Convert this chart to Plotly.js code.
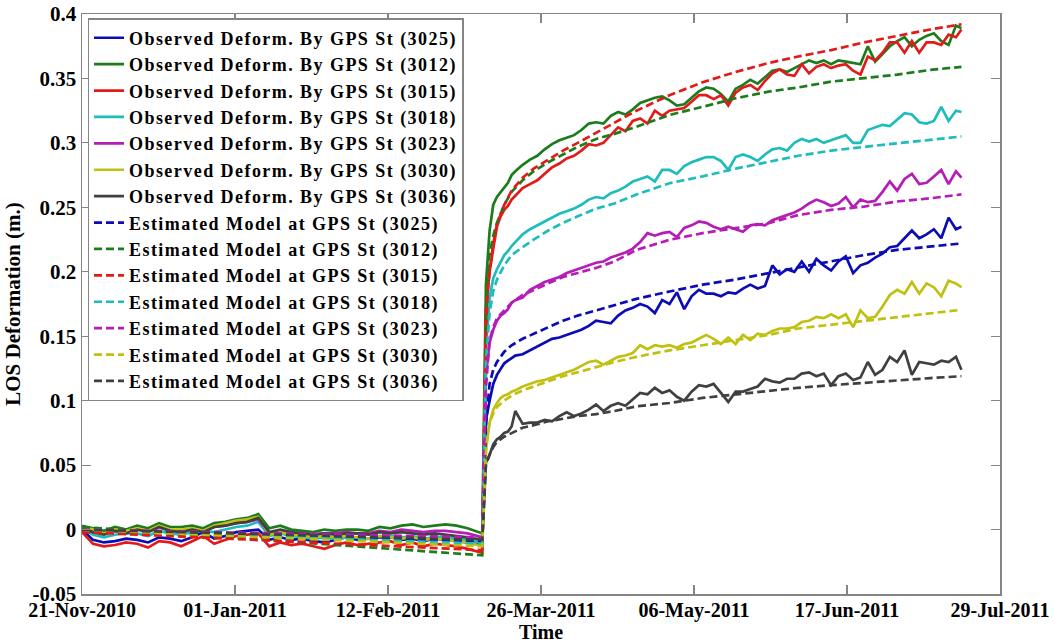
<!DOCTYPE html>
<html>
<head>
<meta charset="utf-8">
<script src="https://cdn.plot.ly/plotly-3.0.1.min.js"></script>
<style>html,body{margin:0;padding:0;background:#fff;}#chart{width:1054px;height:643px;}
.legendtext{letter-spacing:1.45px;}</style>
</head>
<body>
<div id="chart"></div>
<script>
// ---- time grids (days since 21-Nov-2010) ----
const preDays = [0,3,6,9,12,15,18,21,24,27,30,33,36,39,42,45,48,51,54,57,60,63,66,69,72,75,78,81,84,87,90,93,96,99,102,105,109];
const postDays = [110,111,112,113,114,115,116,117,118,
  120,122,124,126,128,130,132,134,136,138,
  140,142,144,146,148,150,152,154,156,158,
  160,162,164,166,168,170,172,174,176,178,
  180,182,184,186,188,190,192,194,196,198,
  200,202,204,206,208,210,212,214,216,218,
  220,222,224,226,228,230,232,234,236,238,239.5];
const modelDays = [0,109,110,110.5,111,112,113,115,117,120,123,127,131,135,140,145,151,160,169,178,187,195,204,213,222,231,239.5];

// ---- axis ticks ----
const xTickDays = [0,41.6667,83.3333,125,166.6667,208.3333,250];
const xTickText = ['21-Nov-2010','01-Jan-2011','12-Feb-2011','26-Mar-2011','06-May-2011','17-Jun-2011','29-Jul-2011'];
const yTickVals = [-0.05,0,0.05,0.1,0.15,0.2,0.25,0.3,0.35,0.4];
const yTickText = ['-0.05','0','0.05','0.1','0.15','0.2','0.25','0.3','0.35','0.4'];

// ---- observed deformation (m) ----
const obsPre3025 = [0.000,-0.008,-0.010,-0.009,-0.007,-0.008,-0.010,-0.006,-0.007,-0.009,-0.006,-0.002,-0.007,-0.005,-0.002,-0.001,0.000,-0.008,-0.006,-0.008,-0.007,-0.009,-0.010,-0.008,-0.006,-0.008,-0.007,-0.006,-0.006,-0.008,-0.007,-0.009,-0.007,-0.008,-0.009,-0.010,-0.012];
const obsPost3025 = [0.085,0.1,0.113,0.12,0.125,0.129,0.131,0.133,0.135,
  0.136,0.139,0.142,0.145,0.148,0.149,0.151,0.153,0.155,0.158,
  0.162,0.161,0.16,0.166,0.17,0.172,0.175,0.173,0.168,0.178,
  0.175,0.184,0.171,0.181,0.186,0.183,0.183,0.181,0.184,0.183,
  0.187,0.19,0.187,0.189,0.205,0.198,0.202,0.2,0.208,0.2,
  0.21,0.205,0.201,0.208,0.212,0.199,0.205,0.207,0.211,0.214,
  0.219,0.22,0.226,0.232,0.226,0.229,0.233,0.226,0.242,0.233,0.235];

const obsPre3012 = [0.003,0.001,-0.001,0.002,0.000,0.003,0.001,0.005,0.002,0.002,0.003,0.001,0.005,0.006,0.008,0.009,0.012,0.001,0.003,0.000,-0.001,-0.002,0.000,-0.001,0.000,0.000,-0.001,0.002,0.001,0.003,0.004,0.002,0.003,0.004,0.003,0.001,-0.003];
const obsPost3012 = [0.19,0.232,0.252,0.258,0.262,0.266,0.269,0.275,0.278,
  0.283,0.287,0.29,0.295,0.299,0.302,0.304,0.306,0.31,0.315,
  0.316,0.315,0.321,0.324,0.322,0.326,0.331,0.333,0.335,0.336,
  0.333,0.329,0.33,0.335,0.34,0.343,0.342,0.338,0.332,0.342,
  0.345,0.349,0.346,0.351,0.356,0.357,0.355,0.358,0.361,0.364,
  0.362,0.364,0.361,0.364,0.363,0.362,0.361,0.375,0.363,0.369,
  0.375,0.379,0.382,0.375,0.38,0.383,0.385,0.379,0.376,0.391,0.389];

const obsPre3015 = [-0.002,-0.011,-0.013,-0.012,-0.010,-0.011,-0.014,-0.009,-0.010,-0.013,-0.009,-0.005,-0.011,-0.008,-0.005,-0.004,-0.003,-0.013,-0.010,-0.012,-0.011,-0.013,-0.015,-0.012,-0.010,-0.012,-0.011,-0.010,-0.009,-0.012,-0.010,-0.013,-0.011,-0.012,-0.013,-0.015,-0.018];
const obsPost3015 = [0.17,0.2,0.218,0.235,0.243,0.248,0.251,0.256,0.259,
  0.265,0.268,0.271,0.276,0.281,0.284,0.288,0.29,0.294,0.299,
  0.298,0.3,0.306,0.312,0.309,0.317,0.319,0.315,0.325,0.321,
  0.325,0.326,0.327,0.332,0.337,0.337,0.334,0.337,0.329,0.339,
  0.343,0.345,0.341,0.348,0.354,0.357,0.353,0.352,0.361,0.354,
  0.359,0.361,0.358,0.36,0.361,0.356,0.353,0.367,0.364,0.37,
  0.378,0.378,0.37,0.379,0.37,0.378,0.378,0.376,0.384,0.382,0.388];

const obsPre3018 = [0.001,-0.004,-0.006,-0.004,-0.003,-0.003,-0.005,-0.001,-0.003,-0.004,-0.002,-0.001,-0.002,0.000,0.002,0.003,0.006,-0.005,-0.003,-0.005,-0.006,-0.007,-0.006,-0.007,-0.006,-0.006,-0.007,-0.005,-0.005,-0.006,-0.005,-0.007,-0.006,-0.006,-0.007,-0.008,-0.010];
const obsPost3018 = [0.14,0.18,0.195,0.202,0.208,0.213,0.216,0.22,0.223,
  0.229,0.233,0.236,0.239,0.242,0.245,0.247,0.249,0.252,0.256,
  0.258,0.257,0.261,0.263,0.266,0.27,0.272,0.274,0.27,0.279,
  0.279,0.276,0.282,0.285,0.287,0.289,0.289,0.286,0.279,0.289,
  0.291,0.289,0.286,0.291,0.295,0.296,0.294,0.3,0.303,0.301,
  0.303,0.3,0.302,0.304,0.306,0.3,0.3,0.31,0.312,0.314,
  0.313,0.318,0.323,0.322,0.316,0.315,0.317,0.328,0.317,0.325,0.324];

const obsPre3023 = [0.002,-0.002,-0.003,-0.001,-0.002,0.000,-0.002,0.002,-0.001,-0.001,0.000,-0.001,0.002,0.003,0.005,0.006,0.008,-0.003,-0.001,-0.003,-0.003,-0.004,-0.003,-0.003,-0.002,-0.003,-0.003,-0.001,-0.002,0.000,-0.001,-0.002,-0.001,-0.001,-0.002,-0.003,-0.006];
const obsPost3023 = [0.12,0.145,0.155,0.162,0.166,0.168,0.171,0.176,0.178,
  0.18,0.186,0.189,0.192,0.194,0.196,0.199,0.201,0.203,0.205,
  0.207,0.208,0.211,0.213,0.215,0.218,0.223,0.23,0.228,0.23,
  0.231,0.227,0.234,0.236,0.239,0.238,0.235,0.233,0.235,0.233,
  0.231,0.236,0.237,0.236,0.24,0.242,0.244,0.246,0.249,0.253,
  0.256,0.254,0.251,0.253,0.258,0.25,0.256,0.254,0.255,0.262,
  0.27,0.263,0.272,0.276,0.268,0.269,0.274,0.279,0.268,0.278,0.273];

const obsPre3030 = [0.002,0.000,-0.003,0.000,-0.001,0.001,-0.001,0.003,0.000,0.000,0.001,-0.001,0.003,0.005,0.007,0.008,0.010,-0.004,-0.002,-0.004,-0.005,-0.006,-0.005,-0.006,-0.005,-0.006,-0.007,-0.005,-0.006,-0.007,-0.006,-0.008,-0.007,-0.008,-0.009,-0.010,-0.013];
const obsPost3030 = [0.062,0.083,0.093,0.098,0.102,0.104,0.105,0.107,0.108,
  0.111,0.113,0.115,0.116,0.118,0.12,0.122,0.124,0.127,0.13,
  0.131,0.128,0.131,0.134,0.135,0.137,0.143,0.14,0.143,0.142,
  0.143,0.141,0.144,0.145,0.148,0.151,0.148,0.144,0.149,0.144,
  0.151,0.147,0.152,0.151,0.154,0.156,0.156,0.157,0.161,0.162,
  0.165,0.164,0.167,0.164,0.167,0.157,0.17,0.164,0.165,0.173,
  0.182,0.186,0.183,0.192,0.183,0.191,0.188,0.181,0.193,0.191,0.188];

const obsPre3036 = [0.001,-0.002,-0.004,-0.001,-0.003,0.000,-0.002,0.002,-0.001,-0.002,0.000,-0.002,0.002,0.003,0.005,0.006,0.009,-0.002,0.000,-0.002,-0.003,-0.004,-0.003,-0.004,-0.003,-0.003,-0.004,-0.002,-0.003,-0.002,-0.003,-0.004,-0.003,-0.004,-0.005,-0.006,-0.008];
const obsPost3036 = [0.052,0.058,0.066,0.07,0.072,0.075,0.076,0.08,0.092,
  0.082,0.083,0.083,0.085,0.084,0.088,0.091,0.088,0.09,0.093,
  0.097,0.092,0.096,0.098,0.096,0.101,0.106,0.105,0.11,0.106,
  0.108,0.103,0.1,0.107,0.112,0.111,0.113,0.106,0.099,0.107,
  0.107,0.109,0.111,0.117,0.115,0.114,0.117,0.117,0.121,0.122,
  0.119,0.121,0.112,0.119,0.121,0.116,0.118,0.13,0.12,0.124,
  0.134,0.13,0.139,0.12,0.13,0.129,0.128,0.131,0.13,0.134,0.124];

// ---- estimated model (m) ----
const model3025 = [-0.001,-0.009,0.08,0.1,0.113,0.124,0.13,0.138,0.143,0.148,0.152,0.157,0.162,0.166,0.17,0.174,0.179,0.1847,0.19,0.194,0.199,0.203,0.208,0.213,0.217,0.2196,0.222];
const model3012 = [0.002,-0.020,0.16,0.2,0.213,0.228,0.238,0.252,0.262,0.271,0.278,0.285,0.291,0.297,0.303,0.307,0.3125,0.3217,0.328,0.3346,0.3398,0.343,0.3475,0.35,0.353,0.3566,0.359];
const model3015 = [-0.002,-0.016,0.15,0.185,0.2,0.222,0.237,0.252,0.263,0.273,0.28,0.287,0.294,0.3,0.308,0.316,0.325,0.337,0.347,0.355,0.362,0.367,0.372,0.378,0.383,0.388,0.392];
const model3018 = [0.0,-0.011,0.13,0.15,0.168,0.185,0.194,0.205,0.213,0.219,0.225,0.232,0.238,0.243,0.249,0.253,0.26,0.2687,0.274,0.28,0.2855,0.29,0.294,0.297,0.2997,0.3023,0.305];
const model3023 = [0.0,-0.006,0.11,0.13,0.147,0.157,0.164,0.17,0.176,0.182,0.186,0.191,0.196,0.199,0.203,0.208,0.217,0.2248,0.23,0.2339,0.2377,0.244,0.248,0.2506,0.2545,0.257,0.26];
const model3030 = [0.0,-0.013,0.06,0.075,0.083,0.09,0.095,0.1,0.104,0.108,0.111,0.115,0.119,0.122,0.126,0.13,0.134,0.139,0.143,0.147,0.151,0.156,0.159,0.162,0.165,0.168,0.1705];
const model3036 = [0.0,-0.008,0.05,0.055,0.058,0.064,0.068,0.072,0.075,0.079,0.081,0.084,0.086,0.088,0.0895,0.092,0.0956,0.0982,0.1021,0.1047,0.1072,0.11,0.112,0.114,0.116,0.1175,0.119];

const stationIds = ['3025','3012','3015','3018','3023','3030','3036'];
const stationColors = ['#0c0cb4','#1c7c1c','#e31a1a','#1fbcbc','#b61cb6','#c0c010','#404040'];

// ---- build ----
function dayToDate(d){
  const dt = new Date(Date.UTC(2010,10,21) + Math.round(d*86400000));
  return dt.toISOString().replace('T',' ').slice(0,19);
}
const preX = preDays.map(dayToDate), postX = postDays.map(dayToDate), modelX = modelDays.map(dayToDate);
const obsSeries = [[obsPre3025,obsPost3025],[obsPre3012,obsPost3012],[obsPre3015,obsPost3015],[obsPre3018,obsPost3018],[obsPre3023,obsPost3023],[obsPre3030,obsPost3030],[obsPre3036,obsPost3036]];
const modelSeries = [model3025,model3012,model3015,model3018,model3023,model3030,model3036];

const traces = [];
stationIds.forEach((id,i)=>{
  traces.push({type:'scatter',mode:'lines',name:'Observed Deform. By GPS St ('+id+')',
    x:preX.concat(postX), y:obsSeries[i][0].concat(obsSeries[i][1]),
    line:{color:stationColors[i],width:2.7}});
});
stationIds.forEach((id,i)=>{
  traces.push({type:'scatter',mode:'lines',name:'Estimated Model at GPS St ('+id+')',
    x:modelX, y:modelSeries[i],
    line:{color:stationColors[i],width:2.7,dash:'8px,4px'}});
});

const fam = 'Liberation Serif, Times New Roman, serif';
const fontB = {family:fam, size:21, color:'#000', weight:'bold'};
const fontX = {family:fam, size:20, color:'#000', weight:'bold'};
const axisCommon = {showline:true, linecolor:'#858585', linewidth:1.5, mirror:'ticks', ticks:'inside',
  ticklen:9, tickcolor:'#858585', tickwidth:1.2, showgrid:false, zeroline:false};

const layout = {
  width:1054, height:643,
  margin:{l:82, r:54, t:14, b:49},
  paper_bgcolor:'#fff', plot_bgcolor:'#fff',
  showlegend:true, hovermode:false,
  xaxis:Object.assign({}, axisCommon, {type:'date', range:[dayToDate(0), dayToDate(250)],
    tickvals:xTickDays.map(dayToDate), ticktext:xTickText, tickfont:fontX, ticklabelstandoff:-3,
    title:{text:'Time', font:fontX, standoff:3}}),
  yaxis:Object.assign({}, axisCommon, {range:[-0.05,0.4], tickvals:yTickVals, ticktext:yTickText, tickfont:fontB,
    title:{text:'LOS Deformation (m.)', font:fontB, standoff:6}}),
  legend:{x:0.006, y:0.993, xanchor:'left', yanchor:'top', bgcolor:'#fff',
    bordercolor:'#858585', borderwidth:1.5, tracegroupgap:0, itemwidth:30,
    font:{family:fam, size:18, color:'#000', weight:'bold'}}
};

Plotly.newPlot('chart', traces, layout, {displayModeBar:false, staticPlot:true});
</script>
</body>
</html>
